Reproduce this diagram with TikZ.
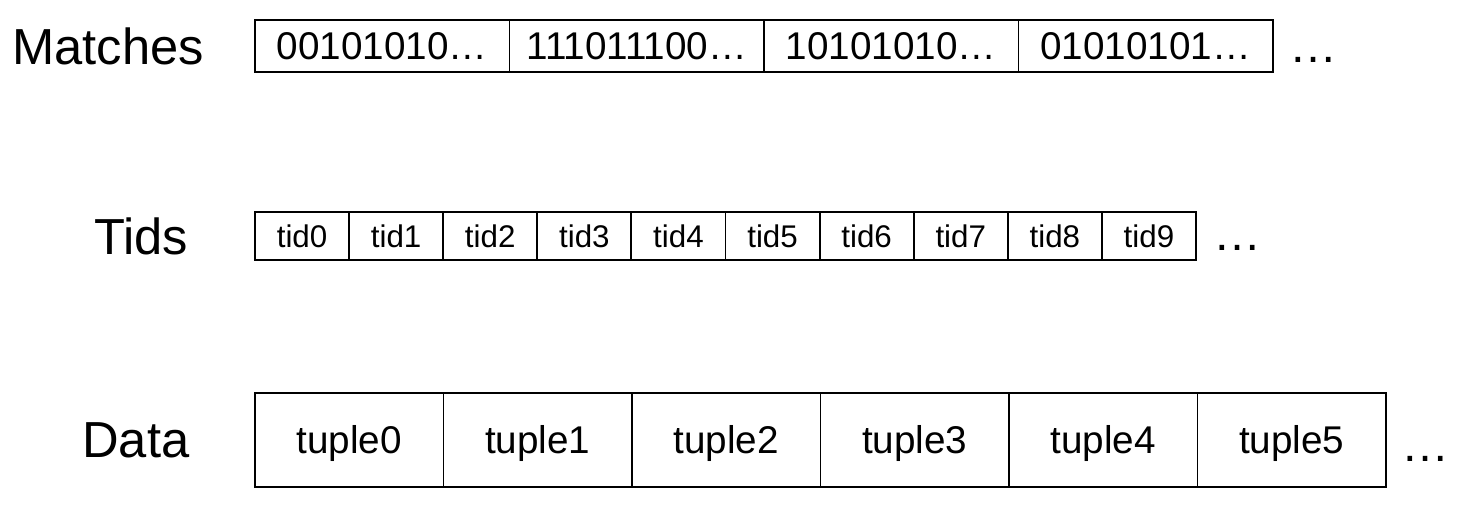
\documentclass[tikz,border=0pt]{standalone}
\usepackage{fontspec}
\setmainfont{Liberation Sans}
\usetikzlibrary{positioning}

\begin{document}
\begin{tikzpicture}[x=0.75pt, y=-0.75pt,
  rowlbl/.style={anchor=west, inner sep=0pt, font=\fontsize{38}{42}\selectfont},
  cell/.style={draw, line width=1.4pt, inner sep=0pt, outer sep=0pt, text depth=0pt},
  mcell/.style={cell, minimum width=190.9pt, minimum height=39pt, text height=20.8pt,
                font=\fontsize{29}{32}\selectfont},
  tcell/.style={cell, minimum width=70.6pt, minimum height=36pt, text height=16.8pt,
                font=\fontsize{23.5}{26}\selectfont},
  dcell/.style={cell, minimum width=141.4pt, minimum height=70.5pt, text height=20.8pt,
                font=\fontsize{29}{32}\selectfont},
  more/.style={anchor=base west, inner sep=0pt, font=\fontsize{36}{40}\selectfont}]
\useasboundingbox (0,0) rectangle (1476,526);
% row labels
\node[rowlbl] (lblmatch) at (12,46) {Matches};
\node[rowlbl] (lbltid)   at (94,236) {Tids};
\node[rowlbl] (lbldata)  at (82,440) {Data};
% match bitmaps
\foreach \bits [count=\i from 0] in {00101010…, 111011100…, 10101010…, 01010101…}
  \node[mcell] (m\i) at (255+127.25+254.5*\i, 46) {\bits};
\node[more] (mdots) at (1289,62) {…};
% tuple ids
\foreach \i in {0,...,9}
  \node[tcell] (t\i) at (255+47.05+94.1*\i, 236) {tid\i};
\node[more] (tdots) at (1213,250) {…};
% tuples
\foreach \i in {0,...,5}
  \node[dcell] (d\i) at (255+94.25+188.5*\i, 440) {tuple\i};
\node[more] (ddots) at (1401,461) {…};
\end{tikzpicture}
\end{document}
